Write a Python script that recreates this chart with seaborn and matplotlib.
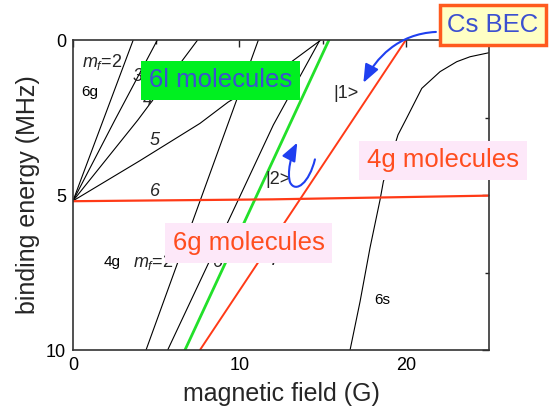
import matplotlib
matplotlib.use("Agg")
import matplotlib.pyplot as plt
from matplotlib.patches import FancyArrowPatch
from matplotlib.path import Path
import pandas as pd
import seaborn as sns

sns.set_theme(style="white")
plt.rcParams["font.family"] = ["Liberation Sans", "DejaVu Sans"]
plt.rcParams["mathtext.fontset"] = "custom"
plt.rcParams["mathtext.it"] = "Liberation Sans:italic"
plt.rcParams["mathtext.rm"] = "Liberation Sans"

# --- molecular levels: magnetic field (G) vs binding energy (MHz) ---
g6_mf2_field = [0.0, 3.62]
g6_mf2_energy = [5.19, 0.0]
g6_mf3_field = [0.0, 2.52, 5.07]
g6_mf3_energy = [5.19, 2.58, 0.0]
g6_mf4_field = [0.0, 3.9, 7.49]
g6_mf4_energy = [5.19, 2.58, 0.0]
g6_mf5_field = [0.0, 4.0, 7.63, 9.33, 12.0, 14.9]
g6_mf5_energy = [5.19, 3.9, 2.69, 2.0, 1.15, 0.0]

g4_a_field = [4.39, 11.14]
g4_a_energy = [10.0, 0.0]
g4_b_field = [5.69, 9.93, 12.04, 14.84]
g4_b_energy = [10.0, 5.16, 2.74, 0.0]

l6_field = [6.73, 15.38]
l6_energy = [10.0, 0.0]

g6_field = [7.63, 20.0]
g6_energy = [10.0, 0.0]

g4_flat_field = [0.0, 12.0, 25.0]
g4_flat_energy = [5.20, 5.14, 5.02]

s6_field = [16.65, 17.25, 17.85, 18.45, 18.65, 19.53, 20.05, 20.96,
            22.06, 23.06, 23.86, 25.0]
s6_energy = [10.0, 8.44, 6.7, 5.16, 4.57, 3.06, 2.52, 1.56,
             1.02, 0.70, 0.54, 0.41]

x_ticks = [0, 10, 20]
y_ticks = [0, 5, 10]

BLACK = "#000000"
GREEN = "#22e02a"
RED = "#ff3a17"
BLUE = "#1f3ff0"
PINK = "#fde8f9"
LABEL_RED = "#ff4d1f"
LABEL_BLUE = "#3c50d0"

fig = plt.figure(figsize=(5.52, 4.15), dpi=100)
ax = fig.add_axes([0.1322, 0.1566, 0.7537, 0.747])

curves = [
    (g6_mf2_field, g6_mf2_energy, BLACK, 0.8),
    (g6_mf3_field, g6_mf3_energy, BLACK, 0.8),
    (g6_mf4_field, g6_mf4_energy, BLACK, 0.8),
    (g6_mf5_field, g6_mf5_energy, BLACK, 0.8),
    (g4_a_field, g4_a_energy, BLACK, 0.8),
    (g4_b_field, g4_b_energy, BLACK, 0.8),
    (s6_field, s6_energy, BLACK, 0.8),
    (l6_field, l6_energy, GREEN, 2.0),
    (g6_field, g6_energy, RED, 1.4),
    (g4_flat_field, g4_flat_energy, RED, 1.6),
]
for xs, ys, col, lw in curves:
    df = pd.DataFrame({"field": xs, "energy": ys})
    sns.lineplot(data=df, x="field", y="energy", ax=ax, color=col, lw=lw,
                 sort=False, estimator=None, legend=False)

ax.set_xlim(0, 25)
ax.set_ylim(10, 0)
ax.set_xticks(x_ticks)
ax.set_xticks([5, 15, 25], minor=True)
ax.set_yticks(y_ticks)
ax.set_yticks([2.5, 7.5], minor=True)
ax.tick_params(which="both", direction="in", top=True, right=True,
               colors="#222222", labelcolor="black", labelsize=13)
ax.tick_params(which="major", length=5, width=1.0, pad=5)
ax.tick_params(which="minor", length=3, width=1.0)
for sp in ax.spines.values():
    sp.set_color("#333333")
    sp.set_linewidth(1.2)

ax.set_xlabel("magnetic field (G)", fontsize=18, labelpad=6)
ax.set_ylabel("binding energy (MHz)", fontsize=18, labelpad=4)

# state labels
small = dict(fontsize=11, color="black", va="center")
ax.text(0.52, 0.70, "$m_f$=2", fontsize=13, va="center", ha="left")
ax.text(0.52, 1.68, "6g", ha="left", **small)
ax.text(3.9, 1.19, "3", fontsize=13, style="italic", ha="center", va="center")
ax.text(4.48, 1.94, "4", fontsize=13, style="italic", ha="center", va="center")
ax.text(4.93, 3.23, "5", fontsize=13, style="italic", ha="center", va="center")
ax.text(4.93, 4.89, "6", fontsize=13, style="italic", ha="center", va="center")
ax.text(2.33, 7.15, "4g", ha="center", **small)
ax.text(3.62, 7.15, "$m_f$=2", fontsize=13, va="center", ha="left")
ax.text(8.71, 7.17, "6", fontsize=13, style="italic", ha="center", va="center")
ax.text(12.1, 7.1, "7", fontsize=13, style="italic", ha="center", va="center")
ax.text(16.38, 1.72, "|1>", fontsize=13, ha="center", va="center")
ax.text(12.32, 4.49, "|2>", fontsize=13, ha="center", va="center")
ax.text(18.57, 8.39, "6s", ha="center", **small)

# boxed labels
ax.text(8.86, 1.30, "6l molecules", fontsize=18.5, color=LABEL_BLUE,
        ha="center", va="center", zorder=5,
        bbox=dict(boxstyle="square,pad=0.3", fc="#00f020", ec="none"))
ax.text(10.55, 6.55, "6g molecules", fontsize=18.5, color=LABEL_RED,
        ha="center", va="center", zorder=5,
        bbox=dict(boxstyle="square,pad=0.3", fc=PINK, ec="none"))
ax.text(22.24, 3.88, "4g molecules", fontsize=18.5, color=LABEL_RED,
        ha="center", va="center", zorder=5, clip_on=False,
        bbox=dict(boxstyle="square,pad=0.3", fc=PINK, ec="none"))
ax.text(25.24, -0.48, "Cs BEC", fontsize=18.5, color=LABEL_BLUE,
        ha="center", va="center", zorder=6, clip_on=False,
        bbox=dict(boxstyle="square,pad=0.3", fc="#ffffc4", ec="#ff5a1e", lw=2.5))

# transfer arrows
arrow1 = Path([(21.81, -0.26), (19.5, -0.2), (18.2, 0.6), (17.45, 1.38)],
              [Path.MOVETO, Path.CURVE4, Path.CURVE4, Path.CURVE4])
arrow2 = Path([(14.54, 3.85), (14.2, 4.6), (13.4, 4.95), (13.05, 4.6),
               (12.85, 4.3), (13.1, 3.7), (13.48, 3.31)],
              [Path.MOVETO, Path.CURVE4, Path.CURVE4, Path.CURVE4,
               Path.CURVE4, Path.CURVE4, Path.CURVE4])
for p in (arrow1, arrow2):
    ax.add_patch(FancyArrowPatch(path=p, transform=ax.transData,
                                 arrowstyle="-|>,head_length=0.55,head_width=0.22",
                                 mutation_scale=20, color=BLUE, lw=1.5,
                                 clip_on=False, zorder=7))

fig.savefig("out.png", dpi=100)
